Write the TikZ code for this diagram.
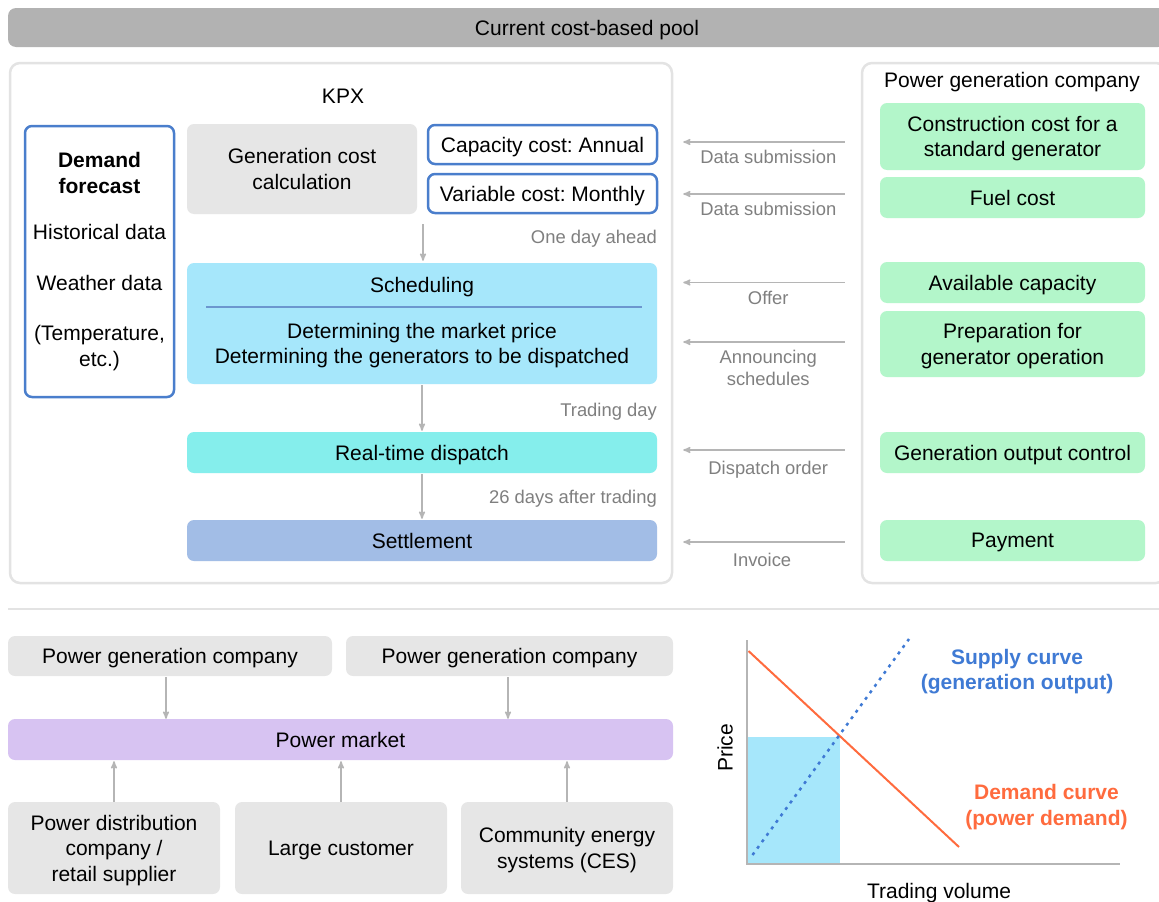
\documentclass[tikz,border=0pt]{standalone}
\usepackage{fontspec}
\setmainfont{Liberation Sans}
\usetikzlibrary{arrows,positioning}
\frenchspacing
\definecolor{bannergray}{HTML}{B2B2B2}
\definecolor{panelgray}{HTML}{E3E3E3}
\definecolor{boxgray}{HTML}{E6E6E6}
\definecolor{kpxblue}{HTML}{4A7ECC}
\definecolor{schedblue}{HTML}{A6E7FB}
\definecolor{rulegray}{HTML}{6C97CF}
\definecolor{dispcyan}{HTML}{85EEEC}
\definecolor{settleblue}{HTML}{A2BDE6}
\definecolor{gengreen}{HTML}{B3F6CA}
\definecolor{marketlilac}{HTML}{D7C3F2}
\definecolor{arrowgray}{HTML}{B5B5B5}
\definecolor{labelgray}{HTML}{7F7F7F}
\definecolor{supplyblue}{HTML}{3F7AD4}
\definecolor{demandorange}{HTML}{FF6B3E}
\newcommand{\bigtxt}{\fontsize{21}{25.5}\selectfont}
\newcommand{\smalltxt}{\fontsize{18.4}{22}\selectfont}
\tikzset{
    %Define standard arrow tip
    >=stealth',
    %Define styles for boxes
    banner/.style={
           rectangle,
           rounded corners=8pt,
           fill=bannergray,
           inner sep=0pt},
    panel/.style={
           rectangle,
           rounded corners=10pt,
           draw=panelgray, line width=2.5pt,
           fill=white,
           inner sep=0pt},
    graybox/.style={
           rectangle,
           rounded corners=7pt,
           fill=boxgray,
           inner sep=0pt,
           align=center},
    bluebox/.style={
           rectangle,
           rounded corners=7pt,
           draw=kpxblue, line width=2.5pt,
           fill=white,
           inner sep=0pt,
           align=center},
    flatbox/.style={
           rectangle,
           rounded corners=7pt,
           inner sep=0pt,
           minimum width=470, minimum height=41,
           align=center},
    greenbox/.style={
           rectangle,
           rounded corners=7pt,
           fill=gengreen,
           inner sep=0pt,
           minimum width=265,
           minimum height=41,
           align=center},
    lbl/.style={
           font=\smalltxt,
           text=labelgray,
           inner sep=0pt,
           align=center},
    % Define arrow style
    flow/.style={
           ->,
           draw=arrowgray,
           line width=1.5pt}
}
\begin{document}
\begin{tikzpicture}[x=1pt,y=-1pt,every node/.style={font=\bigtxt, text depth=0pt}]
\useasboundingbox (0,0) rectangle (1159,902);
 %top
\node[banner, text depth=-5pt, minimum width=1158, minimum height=39](pool) at (587,27.5){Current cost-based pool};
\node[panel, minimum width=662, minimum height=520](kpx) at (341,323){};
\node[panel, minimum width=304, minimum height=520](gen) at (1014,323){};
\node(kpxtitle) at (343,96){KPX};
\node(gentitle) at (1012,80){Power generation company};
 %KPX side
\node[bluebox, text depth={}, minimum width=149, minimum height=271](demand) at (99.5,261.5){\textbf{Demand}\\\textbf{forecast}\\[21pt]Historical data\\[25pt]Weather data\\[25pt](Temperature,\\etc.)};
\node[graybox, minimum width=230, minimum height=90](gencost) at (302,169){Generation cost\\calculation};
\node[bluebox, minimum width=229, minimum height=39](capacity) at (542.5,144.5){Capacity cost: Annual};
\node[bluebox, minimum width=229, minimum height=39](variable) at (542.5,193.5){Variable cost: Monthly};
\node[flatbox, fill=schedblue, minimum height=121](sched) at (422,323.5){};
\node(schedtitle) at (422,285){Scheduling};
\node[align=center](schedtext) at (422,343.5){Determining the market price\\Determining the generators to be dispatched};
\draw[rulegray, line width=1.2pt] (206,307) -- (642,307);
\node[flatbox, fill=dispcyan](dispatch) at (422,452.5){Real-time dispatch};
\node[flatbox, fill=settleblue](settle) at (422,540.5){Settlement};
\coordinate(aheadtop) at (423,224);
\draw[flow, shorten >=2pt] (aheadtop) -- (aheadtop |- sched.north);
\draw[flow, shorten <=1pt, shorten >=1pt] (sched.south) -- (dispatch.north);
\draw[flow, shorten <=1pt, shorten >=1pt] (dispatch.south) -- (settle.north);
\node[lbl, anchor=east](ahead) at (657,237){One day ahead};
\node[lbl, anchor=east](tday) at (657,410){Trading day};
\node[lbl, anchor=east](after) at (657,497){26 days after trading};
 %generation company side
\node[greenbox, minimum height=67](cons) at (1012.5,136.5){Construction cost for a\\standard generator};
\node[greenbox](fuel) at (1012.5,197.5){Fuel cost};
\node[greenbox](avail) at (1012.5,282.5){Available capacity};
\node[greenbox, minimum height=66](prep) at (1012.5,344){Preparation for\\generator operation};
\node[greenbox](outctl) at (1012.5,452.5){Generation output control};
\node[greenbox](pay) at (1012.5,540.5){Payment};
 %submissions
\path[every edge/.style={flow, shorten <=35pt, shorten >=10pt}]
    ([yshift=-5.5pt]cons.west) edge node[lbl, pos=0.54, below=7pt]{Data submission} ([yshift=-5.5pt]cons.west -| kpx.east)
    ([yshift=3.5pt]fuel.west) edge node[lbl, pos=0.54, below=7pt]{Data submission} ([yshift=3.5pt]fuel.west -| kpx.east)
    (avail.west) edge node[lbl, pos=0.54, below=8pt]{Offer} (avail.west -| kpx.east)
    ([yshift=2pt]prep.west) edge node[lbl, pos=0.54, below=7pt]{Announcing\\schedules} ([yshift=2pt]prep.west -| kpx.east)
    ([yshift=2.5pt]outctl.west) edge node[lbl, pos=0.54, below=10pt]{Dispatch order} ([yshift=2.5pt]outctl.west -| kpx.east)
    ([yshift=-1.5pt]pay.west) edge node[lbl, pos=0.57, below=10pt]{Invoice} ([yshift=-1.5pt]pay.west -| kpx.east);
 %separator
\draw[panelgray, line width=2.5pt] (8,609) -- (1159,609);
 %market
\node[graybox, minimum width=324, minimum height=40](pgc1) at (170,656){Power generation company};
\node[graybox, minimum width=327, minimum height=40](pgc2) at (509.5,656){Power generation company};
\node[graybox, fill=marketlilac, minimum width=665, minimum height=41](market) at (340.5,739.5){Power market};
\node[graybox, text depth=-4pt, minimum width=212, minimum height=92](distco) at (114,848){Power distribution\\company /\\retail supplier};
\node[graybox, minimum width=212, minimum height=92](large) at (341,848){Large customer};
\node[graybox, text depth=-4pt, minimum width=212, minimum height=92](ces) at (567,848){Community energy\\systems (CES)};
\draw[flow, shorten <=1pt] ([xshift=-4pt]pgc1.south) -- ([xshift=-4pt]pgc1.south |- market.north);
\draw[flow, shorten <=1pt] ([xshift=-1.5pt]pgc2.south) -- ([xshift=-1.5pt]pgc2.south |- market.north);
\draw[flow, shorten >=1pt] (distco.north) -- (distco.north |- market.south);
\draw[flow, shorten >=1pt] (large.north) -- (large.north |- market.south);
\draw[flow, shorten >=1pt] (ces.north) -- (ces.north |- market.south);
 %price chart
\fill[schedblue] (748,737) rectangle (840,863);
\draw[demandorange, line width=2pt] (748.5,651) -- (959,847);
\draw[supplyblue, line width=2.5pt, dash pattern=on 3pt off 5pt] (752.5,855) -- (909,639);
\draw[arrowgray, line width=2pt] (747,640) -- (747,864) -- (1120,864);
\node[text=supplyblue, font=\bigtxt\bfseries, align=center](supply) at (1017,669.5){Supply curve\\(generation output)};
\node[text=demandorange, font=\bigtxt\bfseries, align=center](demandc) at (1046.5,805){Demand curve\\(power demand)};
\node[rotate=90](price) at (725,748){Price};
\node(volume) at (939,891){Trading volume};
\end{tikzpicture}
\end{document}
